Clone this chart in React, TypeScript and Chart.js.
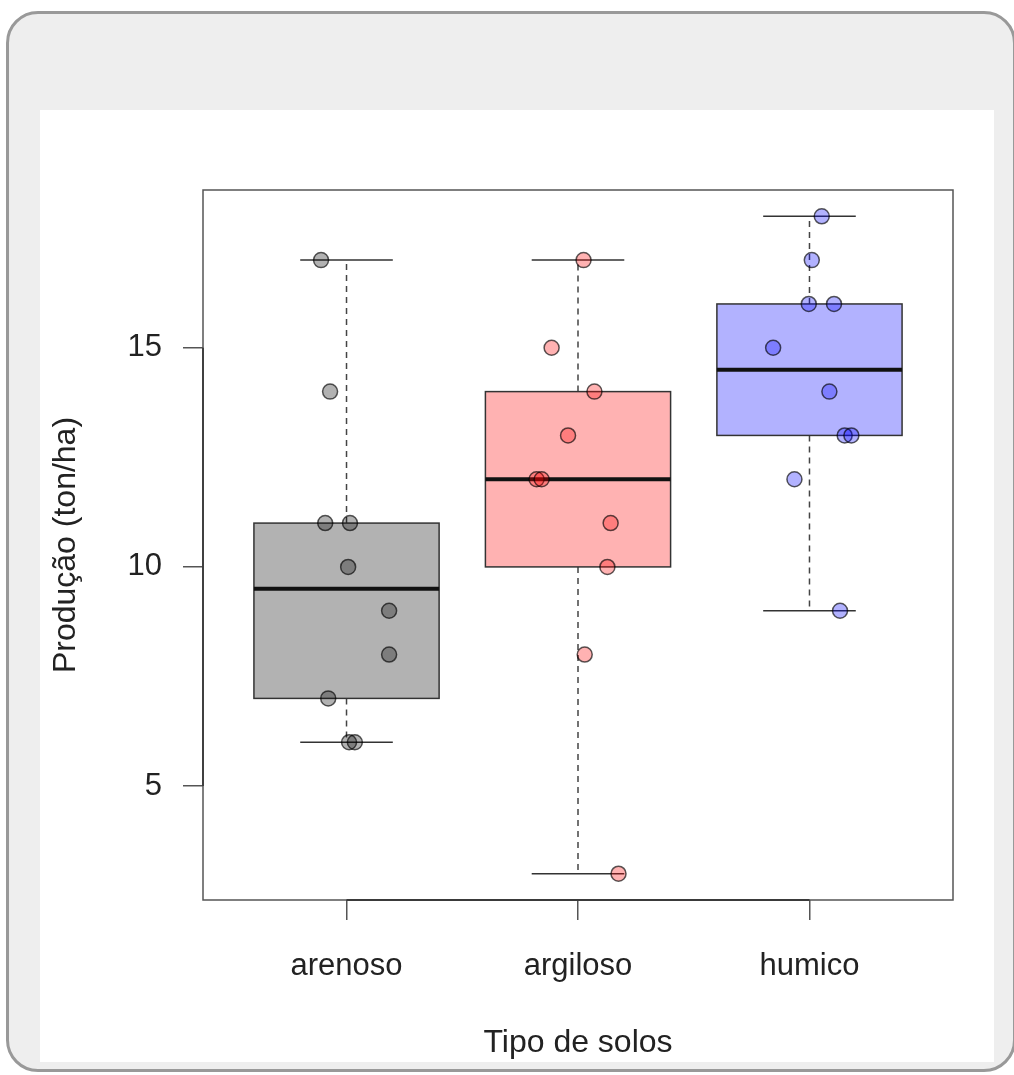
import React, { useEffect, useRef } from "react";
import { Chart, registerables } from "chart.js";

Chart.register(...registerables);

// ---- data ----
const categories = ["arenoso", "argiloso", "humico"];

const arenosoValues = [17, 14, 11, 11, 10, 9, 8, 7, 6, 6];
const arenosoJitter = [-0.11, -0.071, -0.092, 0.015, 0.007, 0.184, 0.184, -0.079, 0.011, 0.036];

const argilosoValues = [17, 15, 14, 13, 12, 12, 11, 10, 8, 3];
const argilosoJitter = [0.024, -0.114, 0.071, -0.043, -0.179, -0.157, 0.141, 0.127, 0.029, 0.175];

const humicoValues = [18, 17, 16, 16, 15, 14, 13, 13, 12, 9];
const humicoJitter = [0.053, 0.01, -0.003, 0.106, -0.157, 0.086, 0.152, 0.181, -0.065, 0.132];

// five-number summaries (min, lower hinge, median, upper hinge, max)
const boxMin = [6, 3, 9];
const boxQ1 = [7, 10, 13];
const boxMedian = [9.5, 12, 14.5];
const boxQ3 = [11, 14, 16];
const boxMax = [17, 17, 18];

const yTicks = [5, 10, 15];
const xTicks = [1, 2, 3];

const yTitle = "Produção (ton/ha)";
const xTitle = "Tipo de solos";

// ---- styles ----
const boxFills = ["rgba(0,0,0,0.3)", "rgba(255,0,0,0.3)", "rgba(0,0,255,0.3)"];
const pointFills = ["rgba(0,0,0,0.3)", "rgba(255,0,0,0.3)", "rgba(0,0,255,0.3)"];
const BOX_HALF = 0.4;
const CAP_HALF = 0.2;
const FONT = "'Liberation Sans', Arial, Helvetica, sans-serif";

const boxPlugin = {
  id: "rboxes",
  beforeDatasetsDraw(chart: any) {
    const { ctx, chartArea } = chart;
    const x = chart.scales.x;
    const y = chart.scales.y;
    ctx.save();
    categories.forEach((_, i) => {
      const pos = i + 1;
      const xc = x.getPixelForValue(pos);
      const xl = x.getPixelForValue(pos - BOX_HALF);
      const xr = x.getPixelForValue(pos + BOX_HALF);
      const sl = x.getPixelForValue(pos - CAP_HALF);
      const sr = x.getPixelForValue(pos + CAP_HALF);
      const pMin = y.getPixelForValue(boxMin[i]);
      const pQ1 = y.getPixelForValue(boxQ1[i]);
      const pMed = y.getPixelForValue(boxMedian[i]);
      const pQ3 = y.getPixelForValue(boxQ3[i]);
      const pMax = y.getPixelForValue(boxMax[i]);

      // whiskers (dashed)
      ctx.strokeStyle = "#444";
      ctx.lineWidth = 1.5;
      ctx.setLineDash([6, 5]);
      ctx.beginPath();
      ctx.moveTo(xc, pQ3);
      ctx.lineTo(xc, pMax);
      ctx.moveTo(xc, pQ1);
      ctx.lineTo(xc, pMin);
      ctx.stroke();
      ctx.setLineDash([]);

      // staples
      ctx.strokeStyle = "#333";
      ctx.beginPath();
      ctx.moveTo(sl, pMax);
      ctx.lineTo(sr, pMax);
      ctx.moveTo(sl, pMin);
      ctx.lineTo(sr, pMin);
      ctx.stroke();

      // box
      ctx.fillStyle = boxFills[i];
      ctx.fillRect(xl, pQ3, xr - xl, pQ1 - pQ3);
      ctx.strokeStyle = "#333";
      ctx.lineWidth = 1.5;
      ctx.strokeRect(xl, pQ3, xr - xl, pQ1 - pQ3);

      // median
      ctx.strokeStyle = "#111";
      ctx.lineWidth = 4;
      ctx.beginPath();
      ctx.moveTo(xl, pMed);
      ctx.lineTo(xr, pMed);
      ctx.stroke();
    });

    // plot frame
    ctx.strokeStyle = "#555";
    ctx.lineWidth = 1.5;
    ctx.strokeRect(
      chartArea.left,
      chartArea.top,
      chartArea.right - chartArea.left,
      chartArea.bottom - chartArea.top
    );

    // R-style axis lines spanning the tick range
    ctx.strokeStyle = "#3a3a3a";
    ctx.lineWidth = 1.8;
    ctx.beginPath();
    ctx.moveTo(chartArea.left, y.getPixelForValue(yTicks[0]));
    ctx.lineTo(chartArea.left, y.getPixelForValue(yTicks[yTicks.length - 1]));
    ctx.moveTo(x.getPixelForValue(xTicks[0]), chartArea.bottom);
    ctx.lineTo(x.getPixelForValue(xTicks[xTicks.length - 1]), chartArea.bottom);
    ctx.stroke();
    ctx.restore();
  },
};

function App() {
  const ref = useRef<HTMLCanvasElement | null>(null);

  useEffect(() => {
    if (!ref.current) return;
    const groups = [
      [arenosoValues, arenosoJitter],
      [argilosoValues, argilosoJitter],
      [humicoValues, humicoJitter],
    ];
    const datasets = groups.map(([vals, jit], i) => ({
      label: categories[i],
      data: vals.map((v, k) => ({ x: i + 1 + jit[k], y: v })),
      backgroundColor: pointFills[i],
      borderColor: "rgba(0,0,0,0.65)",
      borderWidth: 1.5,
      pointRadius: 7.5,
      pointHoverRadius: 7.5,
    }));

    const chart = new Chart(ref.current, {
      type: "scatter",
      data: { datasets },
      plugins: [boxPlugin],
      options: {
        animation: false,
        responsive: false,
        devicePixelRatio: 1,
        layout: { padding: { left: 0, top: 80, right: 41, bottom: 0 } },
        plugins: { legend: { display: false }, tooltip: { enabled: false } },
        scales: {
          x: {
            type: "linear",
            min: 0.38,
            max: 3.62,
            afterFit: (s: any) => {
              s.height = 162;
            },
            afterBuildTicks: (s: any) => {
              s.ticks = xTicks.map((v) => ({ value: v }));
            },
            border: { display: false },
            grid: {
              display: true,
              drawOnChartArea: false,
              drawTicks: true,
              tickLength: 20,
              color: "#555",
              lineWidth: 1.5,
            },
            ticks: {
              padding: 28,
              color: "#222",
              font: { family: FONT, size: 31 },
              maxRotation: 0,
              callback: (v: any) => categories[Math.round(Number(v)) - 1] ?? "",
            },
            title: {
              display: true,
              text: xTitle,
              color: "#222",
              font: { family: FONT, size: 32 },
              padding: { top: 0, bottom: 0 },
            },
          },
          y: {
            type: "linear",
            min: 2.4,
            max: 18.6,
            afterFit: (s: any) => {
              s.width = 163;
            },
            afterBuildTicks: (s: any) => {
              s.ticks = yTicks.map((v) => ({ value: v }));
            },
            border: { display: false },
            grid: {
              display: true,
              drawOnChartArea: false,
              drawTicks: true,
              tickLength: 20,
              color: "#555",
              lineWidth: 1.5,
            },
            ticks: {
              padding: 21,
              color: "#222",
              font: { family: FONT, size: 31 },
              callback: (v: any) => String(v),
            },
            title: {
              display: true,
              text: yTitle,
              color: "#222",
              font: { family: FONT, size: 32 },
              padding: { top: 7, bottom: 0 },
            },
          },
        },
      },
    });
    return () => chart.destroy();
  }, []);

  return (
    <div style={{ position: "absolute", left: 0, top: 0, width: 1014, height: 1075, overflow: "hidden", background: "#fff" }}>
      <div
        style={{
          position: "absolute",
          left: 6,
          top: 11,
          width: 1010,
          height: 1061,
          boxSizing: "border-box",
          border: "3px solid #999",
          borderRadius: 32,
          background: "#eeeeee",
        }}
      />
      <div style={{ position: "absolute", left: 40, top: 110, width: 954, height: 952, background: "#fff" }}>
        <canvas ref={ref} width={954} height={952} style={{ display: "block" }} />
      </div>
    </div>
  );
}

export default App;
